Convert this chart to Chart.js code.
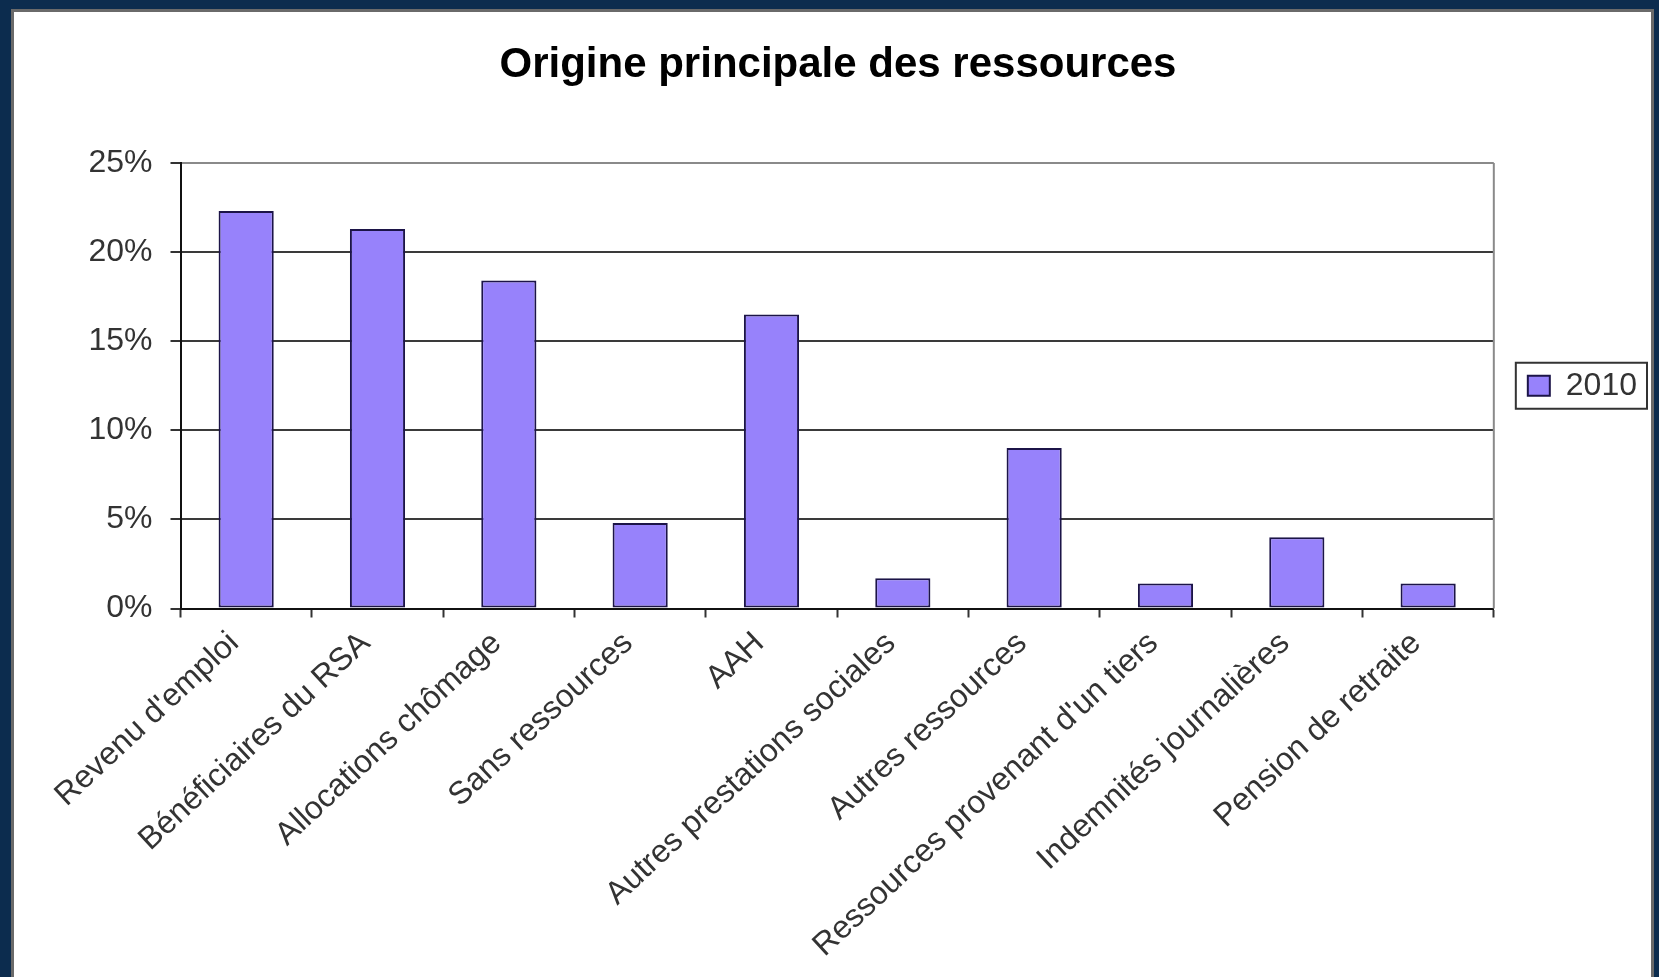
<!DOCTYPE html>
<html lang="fr">
<head>
<meta charset="utf-8">
<title>Origine principale des ressources</title>
<script src="https://cdn.jsdelivr.net/npm/chart.js@4.4.1/dist/chart.umd.min.js"></script>
<style>
  html, body { margin: 0; padding: 0; }
  body { width: 1659px; height: 977px; background: #0c2c4e; position: relative; overflow: hidden; }
  #panel {
    position: absolute; left: 11px; top: 9px; width: 1643px; height: 1000px;
    background: #fff; border: 3px solid #6a6a6a; box-sizing: border-box;
  }
  #chart { position: absolute; left: 0; top: 0; }
</style>
</head>
<body>
<div id="panel"></div>
<canvas id="chart" width="1659" height="977"></canvas>
<script>
// Catégories et valeurs (en %)
const categories = [
    "Revenu d'emploi",
    'Bénéficiaires du RSA',
    'Allocations chômage',
    'Sans ressources',
    'AAH',
    'Autres prestations sociales',
    'Autres ressources',
    "Ressources provenant d'un tiers",
    'Indemnités journalières',
    'Pension de retraite'
];
const values2010 = [22.3, 21.3, 18.4, 4.8, 16.5, 1.7, 9.0, 1.4, 4.0, 1.4];
const seriesName = '2010';
const yTicks = [0, 5, 10, 15, 20, 25];

const barColor = '#9782fb';
const barBorder = '#1c1448';

Chart.defaults.font.family = "'Liberation Sans', Arial, sans-serif";
Chart.defaults.color = '#333';

// Cadre du graphique : bordure droite grise
const plotFrame = {
    id: 'plotFrame',
    beforeDatasetsDraw(chart) {
        const { ctx, chartArea: a } = chart;
        ctx.save();
        ctx.strokeStyle = '#8a8a8a';
        ctx.lineWidth = 2;
        ctx.beginPath();
        ctx.moveTo(a.right, a.top);
        ctx.lineTo(a.right, a.bottom);
        ctx.stroke();
        ctx.restore();
    }
};

// Encadré autour de la légende
const legendFrame = {
    id: 'legendFrame',
    afterDraw(chart) {
        const hb = chart.legend && chart.legend.legendHitBoxes && chart.legend.legendHitBoxes[0];
        if (!hb) return;
        const { ctx } = chart;
        const cy = hb.top + hb.height / 2;
        ctx.save();
        ctx.strokeStyle = '#333';
        ctx.lineWidth = 2;
        ctx.strokeRect(hb.left - 12, cy - 23, hb.width + 22, 46);
        ctx.restore();
    }
};

new Chart(document.getElementById('chart'), {
    type: 'bar',
    data: {
        labels: categories,
        datasets: [{
            label: seriesName,
            data: values2010,
            backgroundColor: barColor,
            borderColor: barBorder,
            borderWidth: 2,
            borderSkipped: false,
            barPercentage: 0.42,
            categoryPercentage: 1
        }]
    },
    options: {
        responsive: false,
        animation: false,
        layout: { padding: { left: 29, top: 0, right: 12, bottom: 0 } },
        plugins: {
            title: {
                display: true,
                text: 'Origine principale des ressources',
                color: '#000',
                font: { size: 42, weight: 'bold' },
                padding: { top: 40, bottom: 72.6 }
            },
            legend: {
                position: 'right',
                fullSize: false,
                labels: {
                    boxWidth: 22,
                    boxHeight: 20,
                    padding: 34,
                    color: '#333',
                    font: { size: 32 }
                }
            },
            tooltip: { enabled: false }
        },
        scales: {
            x: {
                grid: {
                    offset: true,
                    drawOnChartArea: false,
                    drawTicks: true,
                    tickLength: 9,
                    tickColor: '#333',
                    tickWidth: 2
                },
                border: { display: true, color: '#111', width: 2 },
                ticks: {
                    autoSkip: false,
                    minRotation: 43,
                    maxRotation: 43,
                    padding: 7,
                    labelOffset: -12,
                    color: '#333',
                    font: { size: 32 }
                },
                afterFit(scale) { scale.height = 368.5; }
            },
            y: {
                min: 0,
                max: 25,
                afterBuildTicks(scale) { scale.ticks = yTicks.map(v => ({ value: v })); },
                grid: {
                    color: ctx => ctx.tick && ctx.tick.value === 25 ? '#8a8a8a' : '#3a3a3a',
                    lineWidth: 2,
                    tickLength: 10,
                    tickColor: '#333',
                    tickWidth: 2
                },
                border: { display: true, color: '#111', width: 2 },
                ticks: {
                    padding: 18,
                    color: '#333',
                    font: { size: 32 },
                    callback: v => v + '%'
                },
                afterFit(scale) { scale.width = 151.5; }
            }
        }
    },
    plugins: [plotFrame, legendFrame]
});
</script>
</body>
</html>
